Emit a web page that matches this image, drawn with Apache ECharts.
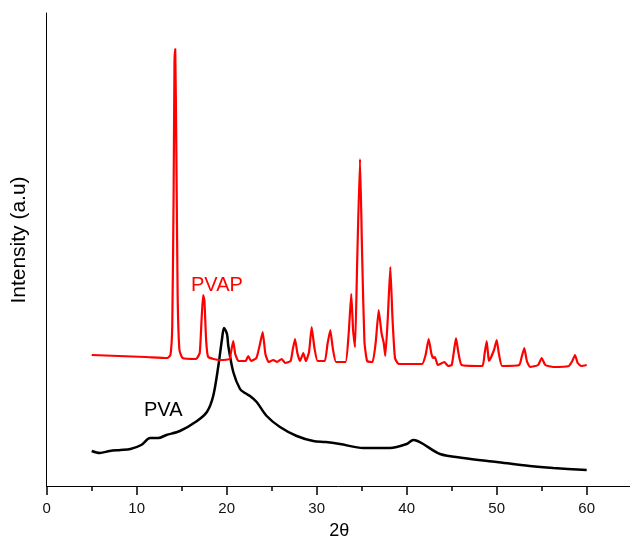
<!DOCTYPE html>
<html>
<head>
<meta charset="utf-8">
<script src="https://cdn.jsdelivr.net/npm/echarts@6/dist/echarts.min.js"></script>
<style>html,body{margin:0;padding:0;background:#fff;}#chart{width:630px;height:539px;}</style>
</head>
<body>
<div id="chart"></div>
<script>
// X tick values
var xTicks = [0, 10, 20, 30, 40, 50, 60];

// PVAP (red) pattern: 2θ and intensity (a.u.)
var pvapTheta = [5.0, 8.0, 11.0, 13.4, 13.75, 13.95, 14.1, 14.2, 14.28, 14.4, 14.55, 14.75, 15.1,
  16.6, 17.0, 17.2, 17.38, 17.52, 17.72, 17.95, 19.2, 20.3, 20.5, 20.73, 20.95, 21.3,
  22.1, 22.4, 22.7, 23.3, 23.7, 24.0, 24.3, 24.65, 25.18, 25.6, 26.1, 26.5,
  27.1, 27.35, 27.59, 27.85, 28.15, 28.51, 28.8, 29.15, 29.44, 29.75, 30.1,
  30.9, 31.2, 31.51, 31.8, 32.15, 33.2, 33.55, 33.84, 34.05, 34.26, 34.5, 34.81, 35.05, 35.3, 35.6,
  36.2, 36.55, 36.89, 37.2, 37.45, 37.62, 37.9, 38.18, 38.42, 38.7, 39.1,
  41.7, 42.1, 42.44, 42.75, 42.95, 43.14, 43.45, 44.18, 44.6,
  45.0, 45.25, 45.48, 45.75, 46.1, 48.4, 48.65, 48.89, 49.05, 49.14, 49.7, 50.0, 50.25, 50.6,
  52.5, 52.8, 53.07, 53.35, 53.7, 54.6, 55.0, 55.4, 56.3, 58.0, 58.4, 58.7, 59.0, 59.4, 60.0];
var pvapIntensity = [131, 130, 129, 128, 131, 160, 290, 425, 437, 340, 190, 136, 128,
  127, 133, 165, 191, 186, 145, 129, 126, 127, 135, 145, 132, 125,
  125, 130, 125, 128, 142, 154, 132, 124, 126, 124, 127, 123,
  125, 137, 147, 133, 125, 133, 125, 134, 159, 138, 125,
  125, 142, 156, 137, 124, 124, 152, 192, 155, 139, 225, 327, 230, 145, 125,
  124, 143, 176, 153, 143, 130, 168, 219, 168, 128, 122,
  122, 131, 147, 132, 128, 129, 121, 124, 120,
  121, 135, 148, 133, 121, 120, 132, 145, 131, 125, 136, 146, 132, 120,
  121, 130, 138, 125, 119, 121, 128, 121, 119, 120, 125, 131, 123, 120, 121];

// PVA (black) pattern
var pvaTheta = [5.0, 5.9, 7.0, 8.2, 9.3, 10.5, 11.5, 12.4, 13.3, 14.8, 16.7, 17.8, 18.5, 19.07, 19.48, 19.7,
  20.03, 20.18, 20.73, 21.48, 22.03, 22.59, 23.33, 24.44, 25.92, 27.78, 29.62, 31.0, 32.59, 35.18, 38.14,
  40.0, 40.73, 41.2, 41.84, 43.7, 46.29, 50.0, 53.67, 56.29, 60.0];
var pvaIntensity = [35, 33, 35, 36, 37, 41, 48, 48, 51, 55, 65, 74, 90, 120, 147, 158,
  152, 140, 114, 97, 93, 90, 84, 70, 59, 50, 45, 44, 42, 38, 38,
  42, 46, 45, 42, 32, 28, 24, 20, 18, 16];

function zip(a, b) { return a.map(function (v, i) { return [v, b[i]]; }); }

var chart = echarts.init(document.getElementById('chart'), null, { renderer: 'canvas' });
var font = 'Liberation Sans, Arial, Helvetica, sans-serif';
chart.setOption({
  animation: false,
  backgroundColor: '#ffffff',
  grid: { left: 46.7, top: 13, width: 585, height: 473, containLabel: false, outerBoundsMode: 'none' },
  xAxis: {
    type: 'value', min: 0, max: 65, interval: 10,
    name: '2θ', nameLocation: 'middle', nameGap: 36,
    nameTextStyle: { fontFamily: font, fontSize: 18, color: '#000' },
    axisLine: { show: true, onZero: false, lineStyle: { color: '#000', width: 1 } },
    axisTick: { show: true, inside: false, length: 9, lineStyle: { color: '#000', width: 1.5 } },
    minorTick: { show: true, splitNumber: 2, length: 5, lineStyle: { color: '#000', width: 1.5 } },
    axisLabel: { margin: 15, fontFamily: font, fontSize: 15, color: '#111',
      formatter: function (v) { return xTicks.indexOf(v) >= 0 ? String(v) : ''; } },
    splitLine: { show: false }
  },
  yAxis: {
    type: 'value', min: 0, max: 473,
    axisLine: { show: true, onZero: false, lineStyle: { color: '#000', width: 1 } },
    axisTick: { show: false }, axisLabel: { show: false }, splitLine: { show: false }
  },
  series: [
    { type: 'line', name: 'PVA', data: zip(pvaTheta, pvaIntensity), showSymbol: false, smooth: 0.3,
      lineStyle: { color: '#000', width: 2.5 } },
    { type: 'line', name: 'PVAP', data: zip(pvapTheta, pvapIntensity), showSymbol: false, smooth: 0.15,
      lineStyle: { color: '#ff0000', width: 2.2 } }
  ],
  graphic: [
    { type: 'text', left: 191, top: 275, style: { text: 'PVAP', fill: '#ff0000', font: '20px ' + font } },
    { type: 'text', left: 144, top: 400, style: { text: 'PVA', fill: '#000', font: '20px ' + font } },
    { type: 'text', x: 19, y: 240, rotation: Math.PI / 2,
      style: { text: 'Intensity (a.u)', fill: '#000', font: '21px ' + font, align: 'center', verticalAlign: 'middle' } }
  ]
});
</script>
</body>
</html>
